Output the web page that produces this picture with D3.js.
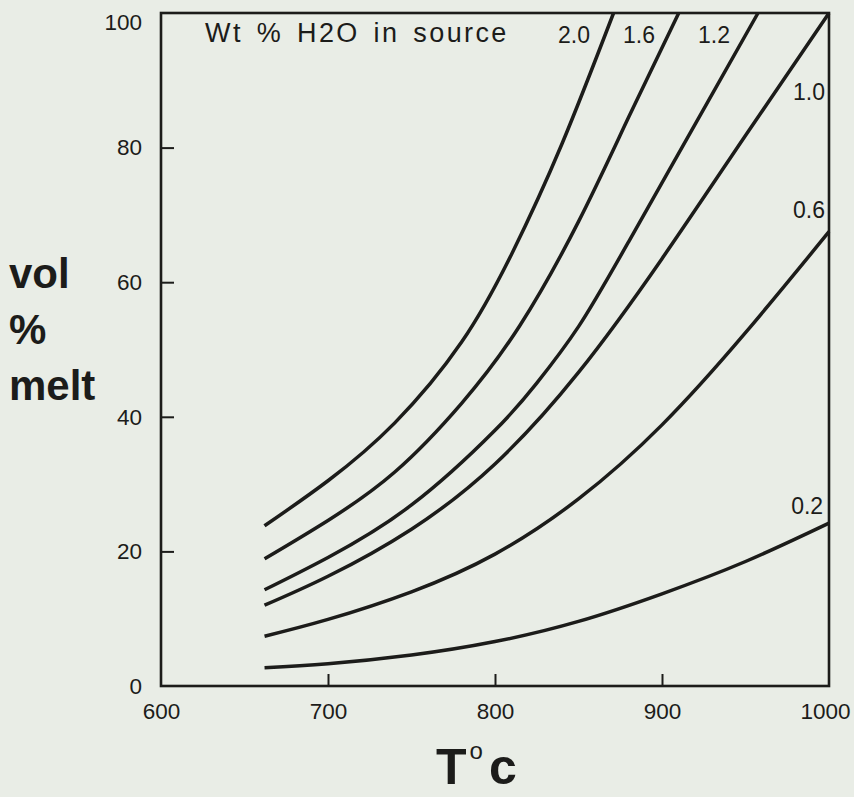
<!DOCTYPE html>
<html>
<head>
<meta charset="utf-8">
<script src="https://cdn.jsdelivr.net/npm/d3@7"></script>
<style>
  html, body { margin: 0; padding: 0; background: #e9ede6; }
  svg { display: block; }
</style>
</head>
<body>
<svg id="chart" width="854" height="797"></svg>
<script>
// ---- data ----
const seriesLabels = ["2.0", "1.6", "1.2", "1.0", "0.6", "0.2"];
const temps20 = [662, 700, 740, 780, 810, 840, 871];
const melt20  = [23.8, 30.5, 39.1, 51.1, 64.2, 80.5, 100];
const temps16 = [662, 700, 740, 780, 815, 850, 880, 910];
const melt16  = [18.9, 24.6, 31.8, 42.0, 53.6, 69.0, 84.5, 100];
const temps12 = [662, 700, 750, 800, 825, 850, 880, 927, 957.5];
const melt12  = [14.3, 19.1, 26.9, 38.0, 45.0, 53.4, 66.0, 86.6, 100];
const temps10 = [662, 700, 750, 800, 850, 900, 950, 1000];
const melt10  = [12.0, 16.3, 23.3, 33.0, 46.6, 63.5, 81.8, 100];
const temps06 = [662, 700, 750, 800, 850, 900, 950, 1000];
const melt06  = [7.4, 9.9, 14.0, 19.6, 27.8, 38.8, 52.5, 67.5];
const temps02 = [662, 700, 750, 800, 850, 900, 950, 1000];
const melt02  = [2.7, 3.3, 4.6, 6.6, 9.6, 13.7, 18.5, 24.2];
const xTicks = [600, 700, 800, 900, 1000];
const yTicks = [0, 20, 40, 60, 80, 100];
// label anchor positions (right edge / baseline) in data units (T, vol %)
const labelT = [856.9, 895.8, 940.7, 997.6, 997.6, 996.5];
const labelV = [95.5, 95.5, 95.5, 87.1, 69.5, 25.6];

const seriesTemps = [temps20, temps16, temps12, temps10, temps06, temps02];
const seriesMelt  = [melt20, melt16, melt12, melt10, melt06, melt02];

// ---- layout ----
const svg = d3.select("#chart");
const font = "'Liberation Sans', Arial, Helvetica, sans-serif";
const x = d3.scaleLinear().domain([600, 1000]).range([161, 829]);
const y = d3.scaleLinear().domain([0, 100]).range([686, 13]);
const ink = "#1c1c1a";

// frame
svg.append("rect")
  .attr("x", x(600)).attr("y", y(100))
  .attr("width", x(1000) - x(600)).attr("height", y(0) - y(100))
  .attr("fill", "none").attr("stroke", ink).attr("stroke-width", 2.6);

// x axis
const gx = svg.append("g").attr("transform", `translate(0,${y(0)})`)
  .call(d3.axisBottom(x).tickValues(xTicks).tickFormat(d3.format("d"))
    .tickSizeInner(-12).tickSizeOuter(0).tickPadding(17));
gx.select(".domain").remove();
gx.selectAll(".tick line").attr("stroke", ink).attr("stroke-width", 2)
  .filter(d => d === 600 || d === 1000).remove();
gx.selectAll(".tick text").attr("font-family", font).attr("font-size", 22.5).attr("fill", ink)
  .attr("dx", d => d === 1000 ? -4 : 0);

// y axis
const gy = svg.append("g").attr("transform", `translate(${x(600)},0)`)
  .call(d3.axisLeft(y).tickValues(yTicks).tickFormat(d3.format("d"))
    .tickSizeInner(-13).tickSizeOuter(0).tickPadding(19));
gy.select(".domain").remove();
gy.selectAll(".tick line").attr("stroke", ink).attr("stroke-width", 2)
  .filter(d => d === 0 || d === 100).remove();
gy.selectAll(".tick text").attr("font-family", font).attr("font-size", 22.5).attr("fill", ink)
  .attr("dy", d => d === 100 ? "0.75em" : "0.32em");

// curves
const line = d3.line()
  .x(d => x(d[0])).y(d => y(d[1]))
  .curve(d3.curveNatural);
seriesTemps.forEach((ts, i) => {
  const pts = ts.map((t, j) => [t, seriesMelt[i][j]]);
  svg.append("path").datum(pts)
    .attr("d", line)
    .attr("fill", "none").attr("stroke", ink)
    .attr("stroke-width", 3.5).attr("stroke-linecap", "butt");
});

// curve labels
seriesLabels.forEach((lab, i) => {
  svg.append("text")
    .attr("x", x(labelT[i]))
    .attr("y", y(labelV[i]))
    .attr("text-anchor", "end")
    .attr("font-family", font).attr("font-size", 23).attr("fill", ink)
    .text(lab);
});

// legend title
svg.append("text")
  .attr("x", 205).attr("y", 42)
  .attr("font-family", font).attr("font-size", 27).attr("fill", ink)
  .attr("letter-spacing", 2.4).attr("word-spacing", 4)
  .text("Wt % H2O in source");

// y title
[["vol", 288], ["%", 344], ["melt", 400]].forEach(([t, yy]) => {
  svg.append("text").attr("x", 9).attr("y", yy)
    .attr("font-family", font).attr("font-size", 42).attr("font-weight", "bold")
    .attr("fill", ink).text(t);
});

// x title
const xt = svg.append("text").attr("x", 436).attr("y", 784)
  .attr("font-family", font).attr("font-size", 50).attr("font-weight", "bold").attr("fill", ink);
xt.append("tspan").text("T");
xt.append("tspan").attr("font-size", 24).attr("font-weight", "normal").attr("dy", -25).attr("dx", 3).text("o");
xt.append("tspan").attr("dy", 25).attr("dx", 6).text("c");
</script>
</body>
</html>
